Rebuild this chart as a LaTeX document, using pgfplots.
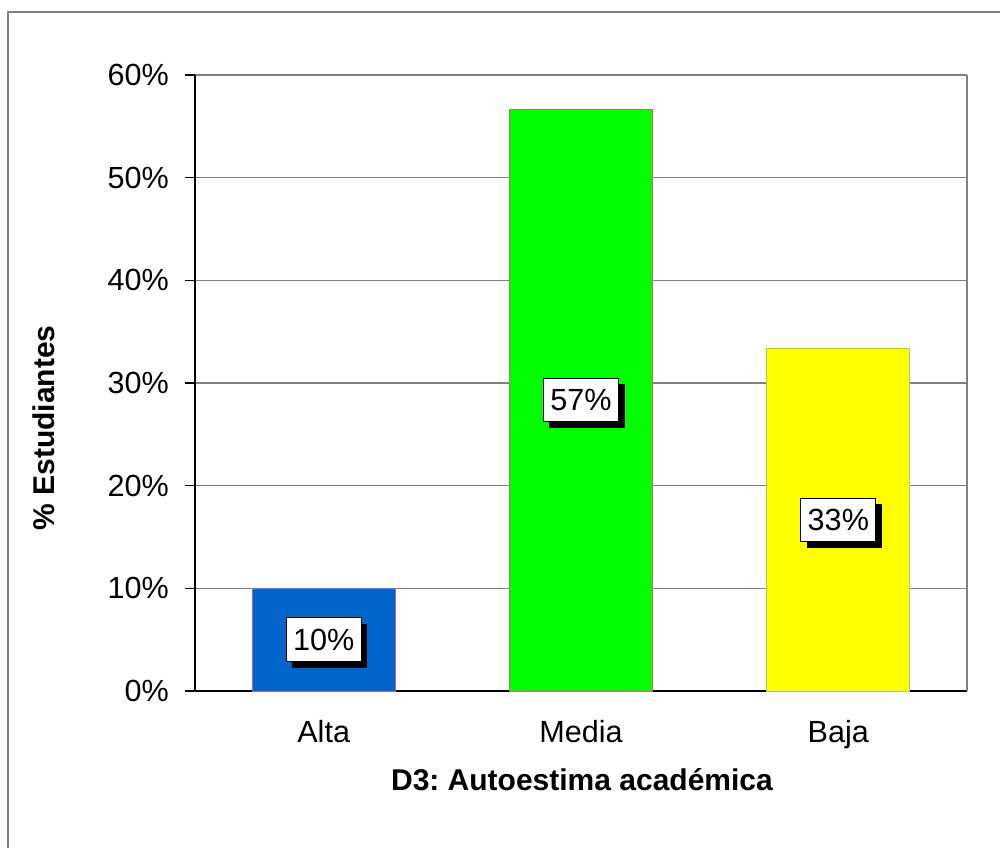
\documentclass[border=0pt]{standalone}
\usepackage{fontspec}
\setmainfont{Liberation Sans}
\usepackage{pgfplots}
\pgfplotsset{compat=1.18}
\usetikzlibrary{shadows}
\definecolor{barblue}{RGB}{0,102,204}
\definecolor{bargreen}{RGB}{0,255,0}
\definecolor{baryellow}{RGB}{255,255,0}
\definecolor{gridgray}{RGB}{128,128,128}
\frenchspacing
\begin{document}
\begin{tikzpicture}
\useasboundingbox (0pt,0pt) rectangle (500pt,-424pt);
\draw[gridgray, line width=0.6pt] (4pt,-424pt) -- (4pt,-6pt) -- (500pt,-6pt);
\begin{axis}[
  at={(97.5pt,-345.5pt)}, anchor=south west,
  scale only axis, width=386pt, height=308pt,
  xmin=-0.5, xmax=2.5, ymin=0, ymax=60,
  axis x line*=bottom, axis y line*=left,
  axis line style={-, black, line width=0.8pt},
  ytick={0,10,20,30,40,50,60},
  yticklabels={0\%,10\%,20\%,30\%,40\%,50\%,60\%},
  ymajorgrids, grid style={gridgray, line width=0.6pt},
  tick align=outside, major tick length=5pt,
  tick style={black, line width=0.8pt},
  xtick={0,1,2}, xticklabels={Alta,Media,Baja},
  x tick style={draw=none},
  extra x ticks={-0.5,0.5,1.5,2.5}, extra x tick labels={},
  extra x tick style={tick style={black, line width=0.8pt}, major tick length=5pt},
  ticklabel style={font=\fontsize{15.3}{18}\selectfont},
  yticklabel style={xshift=-4.5pt},
  xticklabel style={yshift=-6pt},
  clip=false,
]
\addplot[ybar, bar width=71.5pt, bar shift=0pt, fill=barblue, draw={rgb,255:red,153;green,102;blue,204}, line width=0.5pt] coordinates {(0,10)};
\addplot[ybar, bar width=71.5pt, bar shift=0pt, fill=bargreen, draw={rgb,255:red,204;green,102;blue,102}, line width=0.5pt] coordinates {(1,56.67)};
\addplot[ybar, bar width=71.5pt, bar shift=0pt, fill=baryellow, draw={rgb,255:red,170;green,204;blue,102}, line width=0.5pt] coordinates {(2,33.33)};
\addplot[draw=none, mark=none,
  point meta=explicit symbolic,
  nodes near coords,
  every node near coord/.append style={anchor=center, fill=white, draw=black, line width=0.5pt,
    inner xsep=3.5pt, inner ysep=5.5pt, font=\fontsize{15.3}{18}\selectfont,
    drop shadow={shadow xshift=3pt, shadow yshift=-3pt, opacity=1, fill=black}},
] coordinates {(0,5)[10\%] (1,28.33)[57\%] (2,16.67)[33\%]};
\draw[gridgray, line width=0.6pt] (rel axis cs:1,0) -- (rel axis cs:1,1);
\end{axis}
\node[rotate=90, font=\bfseries\fontsize{15}{18}\selectfont] at (22pt,-214pt) {\% Estudiantes};
\node[font=\bfseries\fontsize{15}{18}\selectfont] at (291pt,-390pt) {D3: Autoestima académica};
\end{tikzpicture}
\end{document}
